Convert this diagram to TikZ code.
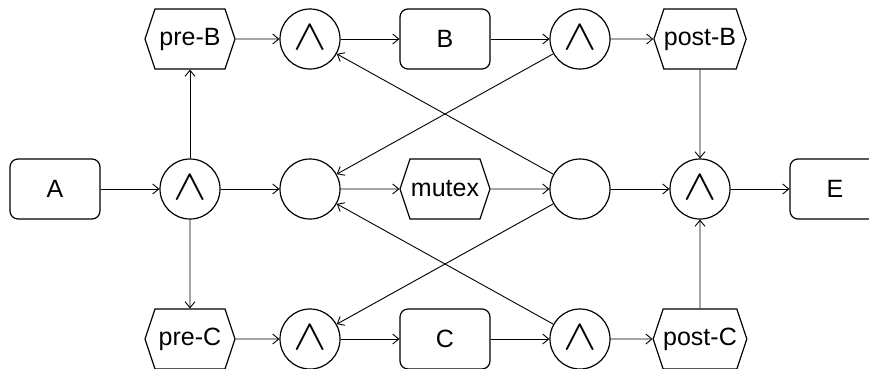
\documentclass[tikz,border=0pt]{standalone}
\usepackage{fontspec}
\setmainfont{Liberation Sans}
\usetikzlibrary{shapes.symbols,arrows.meta}
\begin{document}
\begin{tikzpicture}[x=1pt,y=-1pt,
  every node/.style={font=\fontsize{25}{25}\selectfont, inner sep=0pt, line width=1.2pt},
  taskbox/.style={draw, rounded corners=8pt, minimum width=90pt, minimum height=60pt},
  condhex/.style={draw, signal, signal to=east and west, signal pointer angle=143.13, minimum width=90pt, minimum height=60pt},
  gate/.style={draw, circle, minimum size=60pt},
  conn/.style={-{Straight Barb[length=6pt,width=10pt]}, line width=0.9pt}
]
\useasboundingbox (0,0) rectangle (869,368);
\newcommand{\andsym}{\raisebox{3pt}{\scalebox{5.0}[4.3]{\fontsize{10}{10}\selectfont$\wedge$}}}
% middle row
\node[taskbox] (A) at (55,189) {A};
\node[gate] (g1) at (190,189) {\andsym};
\node[gate] (m1) at (310,189) {};
\node[condhex] (mutex) at (445,189) {mutex};
\node[gate] (m2) at (580,189) {};
\node[gate] (g2) at (700,189) {\andsym};
\node[taskbox] (E) at (835,189) {E};
% top row
\node[condhex] (preB) at (190,39) {pre-B};
\node[gate] (t1) at (310,39) {\andsym};
\node[taskbox] (B) at (445,39) {B};
\node[gate] (t2) at (580,39) {\andsym};
\node[condhex] (postB) at (700,39) {post-B};
% bottom row
\node[condhex] (preC) at (190,339) {pre-C};
\node[gate] (b1) at (310,339) {\andsym};
\node[taskbox] (C) at (445,339) {C};
\node[gate] (b2) at (580,339) {\andsym};
\node[condhex] (postC) at (700,339) {post-C};
% connectors
\draw[conn] (A) -- (g1);
\draw[conn] (g1) -- (preB);
\draw[conn] (g1) -- (preC);
\draw[conn] (g1) -- (m1);
\draw[conn] (m1) -- (mutex);
\draw[conn] (mutex) -- (m2);
\draw[conn] (m2) -- (g2);
\draw[conn] (g2) -- (E);
\draw[conn] (preB) -- (t1);
\draw[conn] (t1) -- (B);
\draw[conn] (B) -- (t2);
\draw[conn] (t2) -- (postB);
\draw[conn] (postB) -- (g2);
\draw[conn] (preC) -- (b1);
\draw[conn] (b1) -- (C);
\draw[conn] (C) -- (b2);
\draw[conn] (b2) -- (postC);
\draw[conn] (postC) -- (g2);
\draw[conn] (t2) -- (m1);
\draw[conn] (m2) -- (t1);
\draw[conn] (m2) -- (b1);
\draw[conn] (b2) -- (m1);
\end{tikzpicture}
\end{document}
